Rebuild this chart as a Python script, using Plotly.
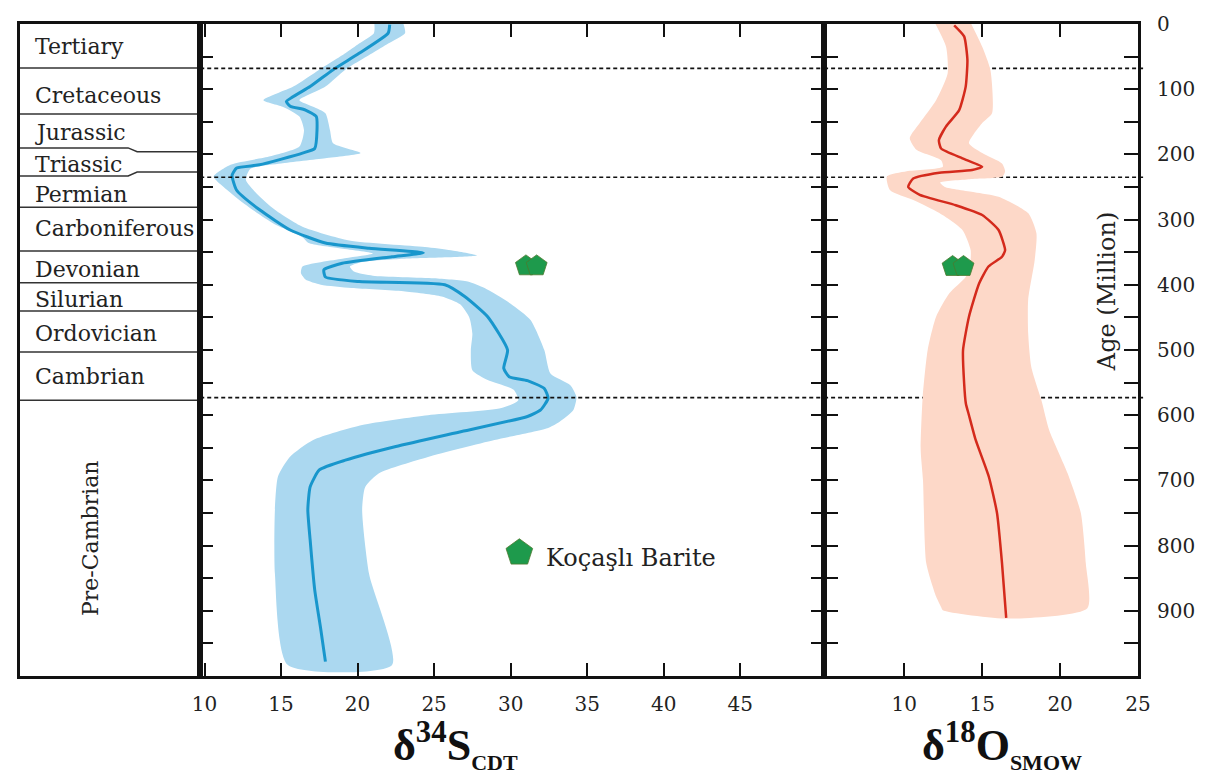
import plotly.graph_objects as go

# ---------------- data ----------------
# d34S curve (age in Ma, value in permil)
s_age = [1, 14, 45, 70, 96, 119, 126, 132, 142, 163, 191, 198, 216, 221, 232, 255, 285, 316, 336, 344,
         351, 357, 367, 377, 388, 395, 400, 418, 449, 500, 528, 541, 547, 559, 574, 592, 602, 625, 648,
         669, 684, 710, 745, 791, 868, 929, 978]
s_val = [22.1, 22.0, 20.1, 18.4, 16.9, 15.35, 15.6, 16.6, 17.3, 17.35, 17.2, 16.4, 13.6, 12.1, 11.8, 12.1,
         13.6, 15.6, 17.9, 20.75, 24.3, 22.25, 19.0, 17.8, 17.9, 20.1, 25.7, 27.0, 28.5, 29.8, 29.55, 29.9,
         31.1, 32.2, 32.45, 31.96, 31.1, 26.8, 22.5, 19.2, 17.5, 16.9, 16.75, 16.9, 17.2, 17.6, 17.9]

# d34S envelope, right edge
s_r_age = [0, 14, 30, 45, 70, 96, 117, 127, 137, 163, 183, 198, 206, 214, 222, 239, 260, 285, 311, 332,
           342, 347, 355, 360, 365, 372, 380, 386, 390, 395, 405, 429, 454, 500, 536, 554, 572, 592, 610,
           620, 638, 664, 689, 710, 745, 843, 983]
s_r_val = [23.0, 23.1, 22.0, 20.96, 19.2, 17.9, 16.2, 17.1, 17.9, 18.2, 18.4, 20.2, 17.9, 15.0, 13.0, 12.7,
           13.4, 14.6, 16.4, 19.45, 24.4, 26.1, 27.8, 23.0, 20.3, 19.5, 19.8, 21.0, 25.0, 27.2, 28.3, 30.0,
           31.3, 32.2, 32.6, 33.9, 34.3, 34.1, 33.2, 32.4, 28.94, 24.6, 21.4, 20.5, 20.3, 20.75, 22.25]
# d34S envelope, left edge
s_l_age = [0, 14, 30, 45, 70, 96, 117, 127, 142, 163, 188, 203, 216, 234, 250, 275, 306, 327, 336, 344,
           352, 360, 372, 382, 392, 400, 405, 410, 418, 430, 450, 475, 500, 531, 546, 561, 577, 589, 600,
           615, 638, 664, 694, 745, 843, 983]
s_l_val = [21.1, 21.07, 20.1, 19.2, 17.5, 15.8, 13.85, 15.1, 16.2, 16.5, 16.2, 14.3, 11.7, 10.6, 11.25,
           12.55, 14.5, 16.4, 16.8, 18.8, 21.0, 19.0, 16.4, 16.3, 16.6, 17.6, 19.6, 23.0, 25.5, 26.7, 27.3,
           27.5, 27.4, 27.5, 28.5, 30.2, 30.5, 29.4, 24.6, 20.3, 17.1, 15.57, 14.8, 14.6, 14.6, 15.45]

# d18O curve
o_age = [2, 19, 55, 96, 132, 157, 178, 191, 206, 219, 224, 228, 237, 250, 262, 278, 293, 316, 347, 357,
         372, 398, 449, 500, 551, 582, 600, 638, 694, 750, 827, 911]
o_val = [13.2, 13.84, 14.05, 13.94, 13.52, 12.68, 12.22, 12.36, 13.73, 15.0, 14.35, 12.25, 10.57, 10.25,
         10.99, 13.3, 15.0, 16.05, 16.47, 16.27, 15.4, 14.8, 14.15, 13.77, 13.84, 13.95, 14.15, 14.58,
         15.42, 15.95, 16.27, 16.54]
o_r_age = [0, 35, 71, 137, 152, 183, 198, 214, 226, 234, 238, 243, 250, 258, 265, 290, 321, 362, 423, 474,
           526, 577, 623, 689, 750, 827, 896, 912]
o_r_val = [14.3, 15.0, 15.53, 15.63, 15.0, 14.15, 15.0, 16.27, 16.47, 16.3, 14.2, 12.3, 12.6, 14.5, 16.05,
           17.95, 18.48, 18.37, 17.95, 17.95, 18.15, 18.8, 19.3, 20.48, 21.33, 21.65, 21.75, 16.68]
o_l_age = [0, 35, 76, 117, 152, 175, 193, 209, 219, 226, 234, 255, 270, 290, 316, 347, 372, 388, 413, 449,
           500, 572, 653, 700, 827, 878, 894, 899]
o_l_val = [12.0, 12.68, 12.78, 12.04, 10.99, 10.35, 10.78, 12.36, 12.47, 10.15, 8.88, 9.09, 10.57, 12.25,
           13.73, 14.26, 14.2, 13.94, 12.89, 12.04, 11.5, 11.18, 11.05, 11.2, 11.41, 12.04, 12.36, 12.47]

# Koçaşlı barite samples
barite_s_val = [31.0, 31.7]
barite_s_age = [371, 371]
barite_o_val = [13.1, 13.8]
barite_o_age = [372, 372]
legend_s_val = [30.57]
legend_age = [811]
legend_text = "Koçaşlı Barite"
legend_text_s = 32.2
legend_text_age = 819

# geological time column
periods = ["Tertiary", "Cretaceous", "Jurassic", "Triassic", "Permian", "Carboniferous",
           "Devonian", "Silurian", "Ordovician", "Cambrian"]
period_label_age = [35, 110, 167, 216, 262, 314, 377, 422, 475, 541]
precambrian_label = "Pre-Cambrian"
precambrian_age = 788
bound_left_age = [67.5, 138, 190, 233, 281, 348, 397, 440, 503, 577]
bound_right_age = [67.5, 138, 196, 227, 281, 348, 397, 440, 503, 577]
dashed_ages = [68, 235, 573]

s_ticks = [10, 15, 20, 25, 30, 35, 40, 45]
o_ticks = [10, 15, 20, 25]
age_ticks = [0, 50, 100, 150, 200, 250, 300, 350, 400, 450, 500, 550, 600, 650, 700, 750, 800, 850, 900, 950]
age_labels = ["0", "", "100", "", "200", "", "300", "", "400", "", "500", "", "600", "", "700", "",
              "800", "", "900", ""]

# ---------------- styling ----------------
S_LINE = "#1896cc"
S_BAND = "#abd8f0"
O_LINE = "#d42a1c"
O_BAND = "#fdd8c8"
GREEN = "#1e9a4c"
SERIF = "DejaVu Serif"

fig = go.Figure()

# period boundary lines in the left column
bx, by = [], []
for la, ra in zip(bound_left_age, bound_right_age):
    bx += [0, 0.60, 0.65, 1, None]
    by += [la, la, ra, ra, None]
fig.add_trace(go.Scatter(x=bx, y=by, mode="lines", line=dict(color="#333333", width=1.5),
                         xaxis="x", yaxis="y", hoverinfo="skip", showlegend=False))

# d34S envelope + line
fig.add_trace(go.Scatter(x=s_r_val + s_l_val[::-1], y=s_r_age + s_l_age[::-1], mode="lines",
                         fill="toself", fillcolor=S_BAND, line=dict(width=0, shape="spline", smoothing=0.6),
                         xaxis="x2", yaxis="y2", hoverinfo="skip", showlegend=False))
fig.add_trace(go.Scatter(x=s_val, y=s_age, mode="lines",
                         line=dict(color=S_LINE, width=3, shape="spline", smoothing=0.5),
                         xaxis="x2", yaxis="y2", showlegend=False))

# d18O envelope + line
fig.add_trace(go.Scatter(x=o_r_val + o_l_val[::-1], y=o_r_age + o_l_age[::-1], mode="lines",
                         fill="toself", fillcolor=O_BAND, line=dict(width=0, shape="spline", smoothing=0.6),
                         xaxis="x3", yaxis="y3", hoverinfo="skip", showlegend=False))
fig.add_trace(go.Scatter(x=o_val, y=o_age, mode="lines",
                         line=dict(color=O_LINE, width=2.5, shape="spline", smoothing=0.5),
                         xaxis="x3", yaxis="y3", showlegend=False))

# barite samples
mk = dict(symbol="pentagon", color=GREEN, size=22, line=dict(color="#4d7a2e", width=0.8))
fig.add_trace(go.Scatter(x=barite_s_val, y=barite_s_age, mode="markers", marker=mk,
                         xaxis="x2", yaxis="y2", showlegend=False))
fig.add_trace(go.Scatter(x=barite_o_val, y=barite_o_age, mode="markers", marker=mk,
                         xaxis="x3", yaxis="y3", showlegend=False))
fig.add_trace(go.Scatter(x=legend_s_val, y=legend_age, mode="markers",
                         marker=dict(symbol="pentagon", color=GREEN, size=28, line=dict(color="#4d7a2e", width=0.8)),
                         xaxis="x2", yaxis="y2", showlegend=False))

# dashed boundary lines
shapes = []
for a in dashed_ages:
    shapes.append(dict(type="line", xref="x2 domain", yref="y2", x0=0, x1=1, y0=a, y1=a,
                       line=dict(color="#111111", width=1.6, dash="4px,3px"), layer="above"))
    shapes.append(dict(type="line", xref="x3 domain", yref="y3", x0=0, x1=1.02, y0=a, y1=a,
                       line=dict(color="#111111", width=1.6, dash="4px,3px"), layer="below"))

annotations = []
for name, a in zip(periods, period_label_age):
    annotations.append(dict(x=0.07, y=a, xref="x", yref="y", text=name, showarrow=False,
                            xanchor="left", yanchor="middle",
                            font=dict(family=SERIF, size=22, color="#222222")))
annotations.append(dict(x=0.39, y=precambrian_age, xref="x", yref="y", text=precambrian_label,
                        showarrow=False, textangle=-90, font=dict(family=SERIF, size=22, color="#222222")))
annotations.append(dict(x=legend_text_s, y=legend_text_age, xref="x2", yref="y2", text=legend_text,
                        showarrow=False, xanchor="left", yanchor="middle",
                        font=dict(family=SERIF, size=24, color="#222222")))
annotations.append(dict(x=23.0, y=410, xref="x3", yref="y3", text="Age (Million)", showarrow=False,
                        textangle=-90, font=dict(family=SERIF, size=24, color="#222222")))
annotations.append(dict(x=26.4, y=-0.106, xref="x2", yref="paper", yanchor="middle",
                        text="<b>δ<sup>34</sup>S<sub><span style='font-size:22px'>CDT</span></sub></b>",
                        showarrow=False, font=dict(family="Liberation Serif", size=44, color="#111111")))
annotations.append(dict(x=16.3, y=-0.106, xref="x3", yref="paper", yanchor="middle",
                        text="<b>δ<sup>18</sup>O<sub><span style='font-size:22px'>SMOW</span></sub></b>",
                        showarrow=False, font=dict(family="Liberation Serif", size=44, color="#111111")))

d1 = (196 - 14) / 1129
d2 = (826 - 14) / 1129
tickfont = dict(family=SERIF, size=20, color="#222222")

fig.update_layout(
    width=1207, height=776,
    margin=dict(l=14, r=64, t=24, b=100),
    paper_bgcolor="white", plot_bgcolor="white",
    shapes=shapes, annotations=annotations,
    xaxis=dict(domain=[0, d1], range=[0, 1], showgrid=False, zeroline=False, showticklabels=False,
               ticks="", showline=True, linecolor="#111111", linewidth=3, mirror=True, fixedrange=True),
    yaxis=dict(domain=[0, 1], range=[1000, 0], anchor="x", showgrid=False, zeroline=False,
               showticklabels=False, ticks="", showline=True, linecolor="#111111", linewidth=3, mirror=True),
    xaxis2=dict(domain=[d1, d2], range=[9.72, 50.48], anchor="y2", showgrid=False, zeroline=False,
                tickvals=s_ticks, ticktext=[str(t) for t in s_ticks], ticks="inside", ticklen=13,
                tickwidth=2, tickcolor="#111111", showline=True, linecolor="#111111", linewidth=3,
                mirror="ticks", tickfont=tickfont, ticklabelstandoff=8),
    yaxis2=dict(domain=[0, 1], range=[1000, 0], anchor="x2", showgrid=False, zeroline=False,
                tickvals=age_ticks, showticklabels=False, ticks="inside", ticklen=13, tickwidth=2,
                tickcolor="#111111", showline=True, linecolor="#111111", linewidth=3, mirror="ticks"),
    xaxis3=dict(domain=[d2, 1], range=[4.85, 25.0], anchor="y3", showgrid=False, zeroline=False,
                tickvals=o_ticks, ticktext=[str(t) for t in o_ticks], ticks="inside", ticklen=13,
                tickwidth=2, tickcolor="#111111", showline=True, linecolor="#111111", linewidth=3,
                mirror="ticks", tickfont=tickfont, ticklabelstandoff=8),
    yaxis3=dict(domain=[0, 1], range=[1000, 0], anchor="x3", side="right", showgrid=False, zeroline=False,
                tickvals=age_ticks, ticktext=age_labels, ticks="inside", ticklen=14, tickwidth=2,
                tickcolor="#111111", showline=True, linecolor="#111111", linewidth=3, mirror="ticks",
                tickfont=tickfont, ticklabelstandoff=12),
)

fig.write_html("out.html", config={"displayModeBar": False},
               post_script="document.body.style.margin='0px';document.body.style.overflow='hidden';")
